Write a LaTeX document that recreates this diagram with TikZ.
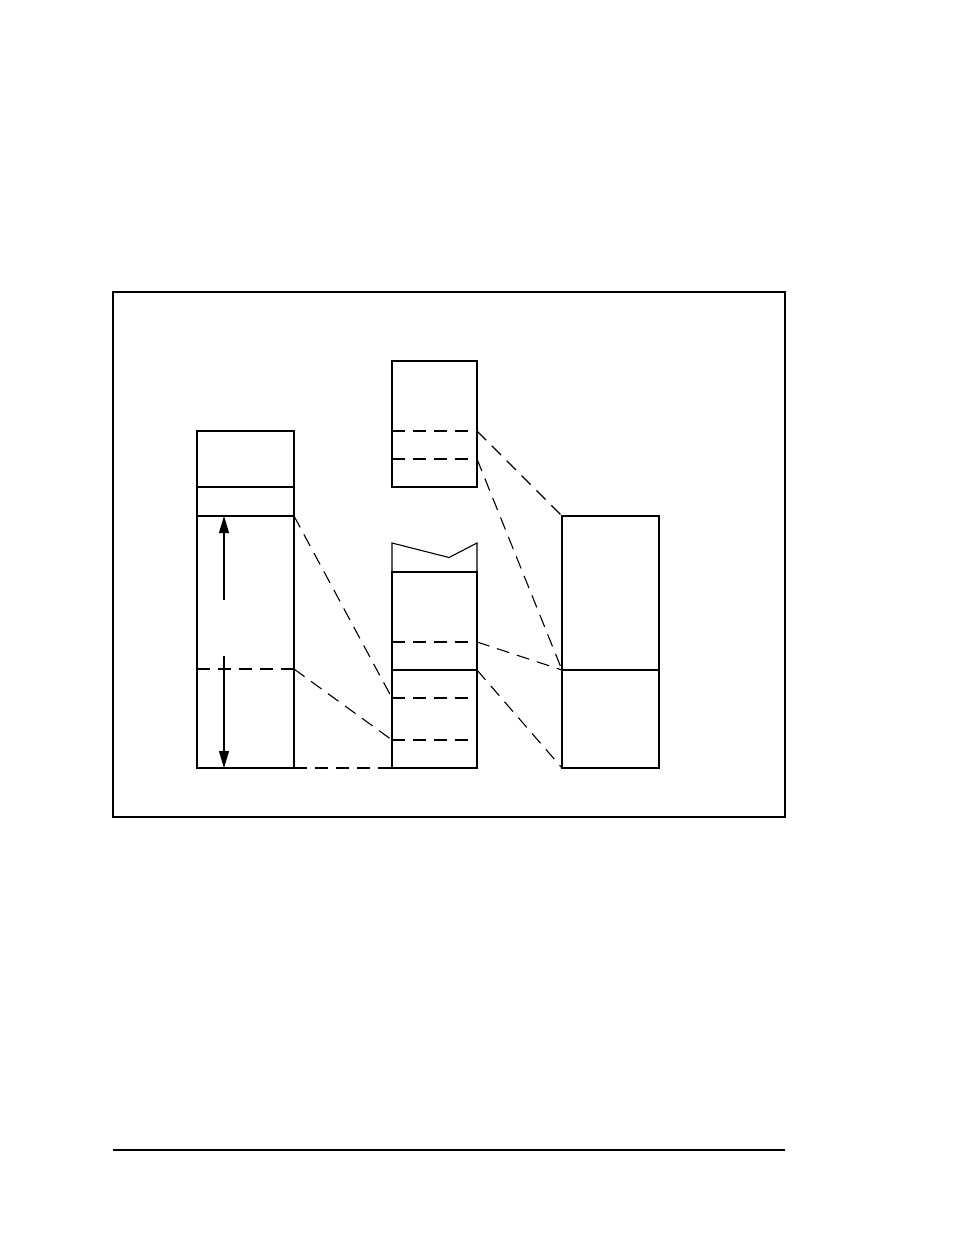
\documentclass[tikz,border=0pt]{standalone}
\usetikzlibrary{arrows.meta}
\begin{document}
\begin{tikzpicture}[x=1pt,y=-1pt,
  solidln/.style={line width=1.1pt},
  dashln/.style={line width=1.1pt,dash pattern=on 13pt off 8pt},
  box/.style={draw,line width=1.1pt,rectangle,inner sep=0pt,outer sep=0pt},
  arr/.style={line width=1.1pt,-{Triangle[length=17pt,width=10pt]}}]
\useasboundingbox (0,0) rectangle (954,1235);
% frame
\node[box,anchor=north west,minimum width=672pt,minimum height=525pt] (frame) at (113,292) {};
\draw[solidln] (113,1150) coordinate (bl) -- (785,1150) coordinate (br);
% column A
\node[box,anchor=north west,minimum width=97pt,minimum height=337pt] (A) at (197,431) {};
\draw[solidln] (197,487) -- (294,487);
\draw[solidln] (197,516) coordinate (a1l) -- (294,516) coordinate (a1);
\draw[dashln] (197,669) -- (294,669) coordinate (a2);
\coordinate (a3) at (294,768);
\coordinate (up0) at (224,600);
\coordinate (up1) at (224,516);
\coordinate (dn0) at (224,656);
\coordinate (dn1) at (224,768);
\draw[arr] (up0) -- (up1);
\draw[arr] (dn0) -- (dn1);
% column B
\node[box,anchor=north west,minimum width=85pt,minimum height=126pt] (B) at (392,361) {};
\draw[dashln] (392,431) -- (477,431) coordinate (b1);
\draw[dashln] (392,459) -- (477,459) coordinate (b2);
% column C
\node[box,anchor=north west,minimum width=85pt,minimum height=196pt] (C) at (392,572) {};
\draw[solidln] (C.north west) -- (392,543) -- (449,557.5) -- (477,543) -- (C.north east);
\draw[dashln] (392,642) -- (477,642) coordinate (c1);
\draw[solidln] (392,670) -- (477,670) coordinate (c2);
\draw[dashln] (392,698) coordinate (c3) -- (477,698);
\draw[dashln] (392,740) coordinate (c4) -- (477,740);
\coordinate (c5) at (C.south west);
% column D
\node[box,anchor=north west,minimum width=97pt,minimum height=252pt] (D) at (562,516) {};
\draw[solidln] (562,670) coordinate (d2) -- (659,670);
\coordinate (d1) at (D.north west);
\coordinate (d3) at (D.south west);
% connectors
\draw[dashln] (b1) -- (d1);
\draw[dashln] (b2) -- (d2);
\draw[dashln] (c1) -- (d2);
\draw[dashln] (c2) -- (d3);
\draw[dashln] (a1) -- (c3);
\draw[dashln] (a2) -- (c4);
\draw[dashln] (a3) -- (c5);
\end{tikzpicture}
\end{document}
